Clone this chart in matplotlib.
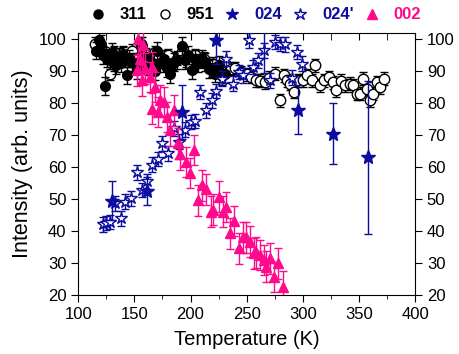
import numpy as np
import matplotlib.pyplot as plt
from matplotlib.lines import Line2D

plt.rcParams['font.family'] = ['Liberation Sans', 'DejaVu Sans']

PINK = '#ff0a8c'
NAVY = '#0c0ca0'

# 311 reflection (filled circles)
T311 = [116, 118, 120, 122, 124, 126, 128, 130, 132, 134, 136, 138, 140, 143, 145,
        148, 150, 152, 154, 157, 160, 162, 165, 168, 170, 173, 176, 179, 182, 185,
        188, 192, 195, 198, 201, 204, 207, 210, 213, 216, 219, 222, 225, 228, 231]
I311 = [96.5, 99.8, 98.5, 95.0, 85.5, 94.0, 93.5, 96.0, 93.0, 92.0, 94.5, 92.5, 95.0, 88.7, 94.0,
        93.0, 92.5, 90.5, 93.0, 98.0, 94.5, 91.5, 93.0, 90.0, 96.5, 92.5, 94.0, 91.0, 89.0, 92.8,
        93.5, 98.0, 93.5, 95.0, 90.3, 94.0, 92.5, 94.0, 93.0, 90.8, 91.0, 89.3, 92.0, 88.5, 89.0]
E311 = 2.8

# 951 reflection (open circles)
T951 = [115, 120, 124, 128, 132, 136, 140, 144, 148, 152, 156, 160, 164, 168, 172,
        176, 180, 184, 188, 192, 196, 200, 204, 208, 212, 216, 220, 224, 228, 232,
        236, 240, 245, 250, 254, 258, 262, 266, 270, 275, 280, 283, 286, 289, 292,
        296, 300, 304, 308, 311, 315, 319, 323, 327, 330, 334, 338, 342, 345, 348,
        351, 354, 357, 360, 363, 366, 369, 372]
I951 = [98.6, 97.0, 95.5, 89.3, 96.0, 94.0, 95.5, 93.5, 96.5, 94.0, 98.6, 95.0, 93.0, 96.0, 94.5,
        93.0, 95.0, 92.5, 94.0, 96.0, 93.5, 92.0, 95.0, 93.0, 94.0, 92.0, 92.4, 91.5, 90.5, 92.0,
        90.8, 91.0, 89.8, 89.0, 88.2, 87.2, 87.0, 86.6, 88.0, 89.3, 80.9, 88.7, 87.2, 86.0, 83.5,
        87.2, 87.2, 88.7, 87.2, 91.9, 85.6, 87.2, 88.2, 86.5, 84.0, 87.0, 85.6, 86.1, 85.6, 83.0,
        83.0, 87.7, 84.6, 80.9, 83.0, 86.6, 85.0, 87.7]
E951 = 2.0

# 024 reflection (filled stars)
T024 = [130, 161, 192, 223, 265, 296, 327, 358]
I024 = [49.5, 52.5, 77.3, 99.9, 104.0, 78.0, 70.5, 63.0]
E024 = [6.0, 4.5, 8.5, 7.5, 14.5, 7.7, 9.5, 24.0]

# 024' reflection (open stars)
T024p = [122, 125, 128, 133, 138, 142, 147, 152, 157, 161, 166, 171, 175, 180, 185,
         190, 195, 200, 204, 208, 214, 219, 223, 228, 232, 238, 243, 247, 252, 256,
         260, 265, 271, 275, 280, 284, 290, 295, 299]
I024p = [42.1, 42.5, 42.8, 48.6, 43.9, 49.1, 50.2, 58.3, 52.8, 55.5, 60.7, 62.5, 67.4, 64.3, 72.1,
         67.9, 71.7, 74.1, 74.4, 83.5, 77.8, 80.9, 83.8, 87.7, 94.0, 86.1, 89.8, 88.7, 99.7, 91.3,
         93.4, 96.6, 87.2, 99.2, 98.6, 98.4, 88.0, 96.0, 92.4]
E024p = 2.3

# 002 reflection (filled triangles)
T002 = [152, 153.5, 155, 156.5, 158, 159.5, 164, 165.5, 166, 168, 171, 173, 176, 179, 182,
        185, 189, 191, 196, 199.5, 203, 207, 210, 214, 218, 220, 225, 229, 232, 235,
        239, 243.5, 247, 249.5, 253, 256.5, 258.5, 262, 265, 267, 271, 274.5, 278, 282]
I002 = [90.3, 100.2, 94.0, 87.2, 98.1, 90.8, 88.2, 91.3, 78.3, 85.1, 77.3, 80.9, 80.4, 75.7, 71.5,
        77.8, 67.4, 64.0, 61.6, 58.1, 65.3, 49.6, 54.3, 53.0, 46.0, 46.6, 50.7, 46.0, 47.5, 39.2,
        43.1, 34.5, 38.0, 38.0, 36.6, 33.0, 33.3, 32.4, 30.9, 28.8, 31.4, 25.6, 29.8, 22.5]
E002 = 4.8

fig = plt.figure(figsize=(4.59, 3.54), dpi=100)
ax = fig.add_axes([0.1706, 0.1675, 0.7336, 0.7393])

ax.errorbar(T951, I951, yerr=E951, fmt='o', ms=7.5, mfc='white', mec='black', mew=1,
            ecolor='black', elinewidth=1, capsize=3, capthick=1, zorder=2)
ax.errorbar(T311, I311, yerr=E311, fmt='o', ms=7, mfc='black', mec='black',
            ecolor='black', elinewidth=1, capsize=3, capthick=1, zorder=3)
ax.errorbar(T024p, I024p, yerr=E024p, fmt='*', ms=9, mfc='white', mec=NAVY, mew=1,
            ecolor=NAVY, elinewidth=1, capsize=3, capthick=1, zorder=4)
ax.errorbar(T002, I002, yerr=E002, fmt='^', ms=7.5, mfc=PINK, mec=PINK,
            ecolor=PINK, elinewidth=1, capsize=3, capthick=1, zorder=5)
ax.errorbar(T024, I024, yerr=E024, fmt='*', ms=10, mfc=NAVY, mec=NAVY,
            ecolor=NAVY, elinewidth=1, capsize=3, capthick=1, zorder=6)

ax.set_xlim(100, 400)
ax.set_ylim(20, 102)
ax.set_xticks(np.arange(100, 401, 50))
ax.set_xticks(np.arange(125, 400, 50), minor=True)
ax.set_yticks(np.arange(20, 101, 10))

ax.tick_params(axis='x', which='both', bottom=True, top=True, direction='out', labelsize=12)
ax.tick_params(axis='x', which='major', length=5)
ax.tick_params(axis='x', which='minor', length=3)
ax.tick_params(axis='y', which='both', left=True, right=True, labelright=True,
               direction='out', length=5, labelsize=12)
for t in ax.xaxis.get_major_ticks() + ax.xaxis.get_minor_ticks():
    t.tick2line.set_marker(3)  # top ticks point inward
    t.tick2line.set_markersize(5)

ax.set_xlabel('Temperature (K)', fontsize=14.5, labelpad=6)
ax.set_ylabel('Intensity (arb. units)', fontsize=15.5, labelpad=4)

handles = [
    Line2D([], [], ls='none', marker='o', ms=6.5, mfc='black', mec='black'),
    Line2D([], [], ls='none', marker='o', ms=6.5, mfc='white', mec='black'),
    Line2D([], [], ls='none', marker='*', ms=9, mfc=NAVY, mec=NAVY),
    Line2D([], [], ls='none', marker='*', ms=9, mfc='white', mec=NAVY),
    Line2D([], [], ls='none', marker='^', ms=7.5, mfc=PINK, mec=PINK),
]
labels = ['311', '951', '024', "024'", '002']
leg = fig.legend(handles, labels, loc='center', bbox_to_anchor=(0.556, 0.958), ncol=5,
                 frameon=False, handlelength=1.0, handletextpad=0.82, columnspacing=0.58,
                 prop={'weight': 'bold', 'size': 12},
                 labelcolor=['black', 'black', NAVY, NAVY, PINK])

fig.savefig('out.png', dpi=100)
